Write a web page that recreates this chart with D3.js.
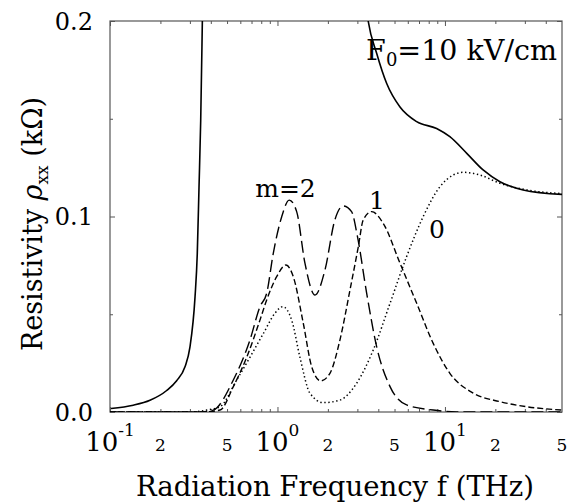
<!DOCTYPE html>
<html>
<head>
<meta charset="utf-8">
<script src="https://cdn.jsdelivr.net/npm/d3@7"></script>
<style>
  body { margin: 0; background: #fff; }
</style>
</head>
<body>
<div id="chart"></div>
<script>
// curves: [frequency THz, resistivity kOhm]
var totalLow = [[0.1014, 0.0018], [0.1377, 0.0035], [0.1733, 0.006], [0.218, 0.011],
  [0.25, 0.016], [0.28, 0.023], [0.30, 0.033], [0.322, 0.059], [0.332, 0.081],
  [0.34, 0.115], [0.348, 0.149], [0.356, 0.2], [0.362, 0.24]];
var totalHigh = [[3.3, 0.215], [3.48, 0.2], [3.91, 0.1835], [4.49, 0.168], [5.39, 0.156],
  [6.78, 0.1485], [8.92, 0.145], [10.7, 0.1408], [13.5, 0.1323], [16.9, 0.1238],
  [21.3, 0.1178], [29.3, 0.1136], [50, 0.1113]];
var m0 = [[0.1, 0], [0.3, 0], [0.378, 0.001], [0.454, 0.0027], [0.571, 0.0164], [0.685, 0.028],
  [0.822, 0.040], [0.966, 0.0505], [1.074, 0.0539], [1.216, 0.047], [1.362, 0.028],
  [1.563, 0.0096], [1.877, 0.0048], [2.36, 0.0061], [2.97, 0.0147], [3.73, 0.0317],
  [4.70, 0.0556], [5.90, 0.0794], [7.41, 0.0999], [9.33, 0.1152], [11.2, 0.1212],
  [12.9, 0.1226], [16.2, 0.1212], [21.3, 0.117], [30.8, 0.1136], [50, 0.1117]];
var m1 = [[0.1, 0], [0.35, 0], [0.454, 0.001], [0.545, 0.013], [0.655, 0.028], [0.786, 0.047],
  [0.862, 0.0573], [0.989, 0.0692], [1.125, 0.0752], [1.243, 0.0692], [1.426, 0.0454],
  [1.60, 0.0232], [1.811, 0.0159], [2.057, 0.0198], [2.36, 0.0368], [2.71, 0.0624],
  [3.04, 0.0846], [3.25, 0.0982], [3.65, 0.1025], [4.28, 0.0965], [5.39, 0.0761],
  [6.78, 0.0556], [8.51, 0.0351], [10.7, 0.0198], [14.8, 0.0096], [21.3, 0.0053],
  [30.8, 0.0027], [50, 0.001]];
var m2 = [[0.1, 0], [0.35, 0], [0.414, 0.001], [0.545, 0.0164], [0.685, 0.0368], [0.786, 0.0539],
  [0.862, 0.0607], [0.944, 0.0812], [1.06, 0.0999], [1.175, 0.1084], [1.302, 0.1025],
  [1.459, 0.0761], [1.675, 0.0598], [1.921, 0.0726], [2.20, 0.0982], [2.47, 0.1054],
  [2.77, 0.1025], [3.0, 0.09], [3.41, 0.0607], [3.91, 0.0334], [4.70, 0.013],
  [5.90, 0.0036], [8.51, 0.001], [11.7, 0], [50, 0]];

var yTicks = [0, 0.1, 0.2];
var yMinor = [0.05, 0.15];
var xMajor = [0.1, 1, 10];
var xMinor = [0.2, 0.3, 0.4, 0.5, 0.6, 0.7, 0.8, 0.9, 2, 3, 4, 5, 6, 7, 8, 9, 20, 30, 40];
var xMajorLabels = [["10", "-1"], ["10", "0"], ["10", "1"]];
var xMinorLabels = [[0.2, "2"], [0.5, "5"], [2, "2"], [5, "5"], [20, "2"], [50, "5"]];
var notes = [[1.116, 0.110, "m=2"], [3.93, 0.1038, "1"], [8.96, 0.089, "0"]];

var width = 568, height = 503;
var margin = {top: 21, right: 6, bottom: 91, left: 110};
var w = width - margin.left - margin.right;
var h = height - margin.top - margin.bottom;
var serif = "'DejaVu Serif', 'Liberation Serif', serif";

var svg = d3.select("#chart").append("svg")
  .attr("width", width)
  .attr("height", height)
  .style("font-family", serif);

var g = svg.append("g").attr("transform", "translate(" + margin.left + "," + margin.top + ")");

var x = d3.scaleLog().domain([0.1, 50]).range([0, w]);
var y = d3.scaleLinear().domain([0, 0.2]).range([h, 0]);

svg.append("defs").append("clipPath").attr("id", "clip")
  .append("rect").attr("width", w).attr("height", h);

// frame ticks, all pointing inward
function frameTicks(makeAxis, pos, major, minor) {
  var ga = g.append("g").attr("transform", pos);
  ga.append("g").call(makeAxis().tickValues(major).tickSize(-5).tickFormat(""));
  ga.append("g").call(makeAxis().tickValues(minor).tickSize(-3).tickFormat(""));
  ga.selectAll("path").remove();
  ga.selectAll("line").attr("stroke", "#555");
}
frameTicks(function () { return d3.axisBottom(x); }, "translate(0," + h + ")", xMajor, xMinor);
frameTicks(function () { return d3.axisTop(x); }, "translate(0,0)", xMajor, xMinor);
frameTicks(function () { return d3.axisLeft(y); }, "translate(0,0)", yTicks, yMinor);
frameTicks(function () { return d3.axisRight(y); }, "translate(" + w + ",0)", yTicks, yMinor);

g.append("rect")
  .attr("width", w).attr("height", h)
  .attr("fill", "none").attr("stroke", "#555").attr("stroke-width", 1.2);

// curves
var line = d3.line()
  .x(function (d) { return x(d[0]); })
  .y(function (d) { return y(d[1]); })
  .curve(d3.curveMonotoneX);

var plot = g.append("g").attr("clip-path", "url(#clip)");
var series = [
  [totalLow, null, 1.6],
  [totalHigh, null, 1.6],
  [m0, "1.4,2.6", 1.5],
  [m1, "6,3", 1.4],
  [m2, "12,5", 1.4]
];
series.forEach(function (s) {
  plot.append("path")
    .datum(s[0])
    .attr("d", line)
    .attr("fill", "none")
    .attr("stroke", "#000")
    .attr("stroke-width", s[2])
    .attr("stroke-dasharray", s[1]);
});

// y tick labels
g.selectAll(".ylab").data(yTicks).enter().append("text")
  .attr("class", "ylab")
  .attr("x", -17)
  .attr("y", function (d) { return y(d); })
  .attr("dy", "0.36em")
  .attr("text-anchor", "end")
  .style("font-size", "24px")
  .text(function (d) { return d.toFixed(1); });

// x tick labels
var maj = g.selectAll(".xmaj").data(xMajor).enter().append("text")
  .attr("class", "xmaj")
  .attr("x", function (d) { return x(d); })
  .attr("y", h + 39)
  .attr("text-anchor", "middle")
  .style("font-size", "26px");
maj.append("tspan").text(function (d, i) { return xMajorLabels[i][0]; });
maj.append("tspan").attr("dy", -15).style("font-size", "17px")
  .text(function (d, i) { return xMajorLabels[i][1]; });

g.selectAll(".xmin").data(xMinorLabels).enter().append("text")
  .attr("class", "xmin")
  .attr("x", function (d) { return x(d[0]); })
  .attr("y", h + 39)
  .attr("text-anchor", "middle")
  .style("font-size", "17px")
  .text(function (d) { return d[1]; });

// axis titles
svg.append("text")
  .attr("x", 335)
  .attr("y", 496)
  .attr("text-anchor", "middle")
  .style("font-size", "27.5px")
  .text("Radiation Frequency f (THz)");

var yt = svg.append("text")
  .attr("transform", "translate(42,224) rotate(-90)")
  .attr("text-anchor", "middle")
  .style("font-size", "27px");
yt.append("tspan").text("Resistivity ");
yt.append("tspan").style("font-style", "italic").text("ρ");
yt.append("tspan").attr("dy", 6).style("font-size", "17px").text("xx");
yt.append("tspan").attr("dy", -6).text(" (kΩ)");

// annotations
var f0 = g.append("text")
  .attr("x", w - 5).attr("y", 39)
  .attr("text-anchor", "end")
  .style("font-size", "28.5px");
f0.append("tspan").text("F");
f0.append("tspan").attr("dy", 6).style("font-size", "18px").text("0");
f0.append("tspan").attr("dy", -6).text("=10 kV/cm");

g.selectAll(".note").data(notes).enter().append("text")
  .attr("class", "note")
  .attr("x", function (d) { return x(d[0]); })
  .attr("y", function (d) { return y(d[1]); })
  .attr("text-anchor", "middle")
  .style("font-size", "25px")
  .text(function (d) { return d[2]; });
</script>
</body>
</html>
